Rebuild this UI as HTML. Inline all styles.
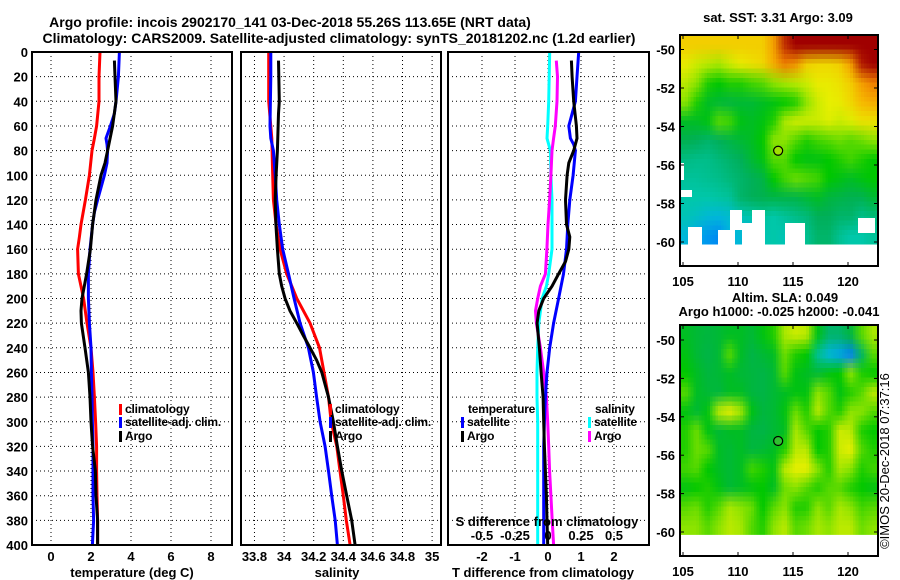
<!DOCTYPE html>
<html><head><meta charset="utf-8">
<style>
html,body{margin:0;padding:0;background:#fff;}
svg{display:block;font-family:"Liberation Sans",sans-serif;}
.t{font-weight:bold;font-size:13px;fill:#000;}
.lg{font-weight:bold;font-size:12px;fill:#000;letter-spacing:-0.2px;}
.ti{font-weight:bold;font-size:14px;fill:#000;}
</style></head>
<body>
<svg id="chart" width="900" height="580" viewBox="0 0 900 580" xmlns="http://www.w3.org/2000/svg">
<text class="ti" x="290" y="27" text-anchor="middle">Argo profile: incois 2902170_141 03-Dec-2018 55.26S 113.65E (NRT data)</text>
<text class="ti" x="339" y="43" text-anchor="middle">Climatology: CARS2009. Satellite-adjusted climatology: synTS_20181202.nc (1.2d earlier)</text>
<g id="g"></g>
<text x="889" y="461" transform="rotate(-90 889 461)" text-anchor="middle" font-size="13">©IMOS 20-Dec-2018 07:37:16</text>
</svg>
<script>
// ---------- data ----------
const depthTicks=[0,20,40,60,80,100,120,140,160,180,200,220,240,260,280,300,320,340,360,380,400];
const tempTicks=[0,2,4,6,8];
const salTicks=[33.8,34,34.2,34.4,34.6,34.8,35];
const salTickLabels=["33.8","34","34.2","34.4","34.6","34.8","35"];
const tdTicks=[-2,-1,0,1,2];
const sdTicks=[-0.5,-0.25,0,0.25,0.5];
const sdTickLabels=["-0.5","-0.25","0","0.25","0.5"];

const climTD=[0,20,40,60,70,80,100,120,140,150,160,180,190,200,220,240,260,280,300,320,340,360,380,400];
const climT=[2.45,2.4,2.4,2.28,2.17,2.05,1.92,1.72,1.5,1.42,1.33,1.37,1.5,1.63,1.8,2.0,2.1,2.17,2.23,2.28,2.28,2.3,2.33,2.33];
const satTD=[0,20,40,50,60,70,75,80,90,100,110,120,130,140,160,180,200,220,240,260,280,300,320,340,360,380,400];
const satT=[3.42,3.37,3.25,3.17,2.97,2.75,2.8,2.83,2.8,2.67,2.5,2.33,2.17,2.08,1.95,1.87,1.87,1.92,2.0,2.02,2.05,2.07,2.1,2.1,2.1,2.13,2.07];
const argoTD=[7,20,40,60,80,90,100,120,140,160,180,200,210,220,240,260,280,300,320,340,360,380,400];
const argoT=[3.17,3.2,3.25,3.08,2.83,2.7,2.5,2.25,2.08,1.97,1.78,1.55,1.5,1.52,1.7,1.87,1.95,2.0,2.08,2.22,2.25,2.33,2.33];

const climSD=[0,40,70,100,120,140,160,180,190,200,220,240,260,280,300,320,340,360,380,400];
const climS=[33.896,33.896,33.917,33.923,33.928,33.946,33.973,34.018,34.052,34.086,34.176,34.239,34.27,34.3,34.318,34.356,34.378,34.4,34.42,34.446];
const satSD=[0,20,60,70,80,100,120,140,160,180,200,220,240,260,280,300,320,340,360,380,400];
const satS=[33.91,33.91,33.905,33.91,33.928,33.94,33.95,33.968,33.991,34.03,34.068,34.108,34.164,34.198,34.22,34.243,34.277,34.3,34.322,34.345,34.36];
const argoSD=[7,40,50,80,100,120,140,160,180,190,200,210,220,230,240,250,260,280,300,320,340,360,380,400];
const argoS=[33.962,33.968,33.962,33.955,33.946,33.94,33.945,33.955,33.968,33.984,34.007,34.04,34.086,34.13,34.176,34.22,34.255,34.3,34.333,34.36,34.39,34.423,34.457,34.48];

const dTsatD=[0,20,40,50,60,70,75,80,100,120,140,160,180,200,220,240,260,280,300,320,340,360,380,400];
const dTsat=[0.93,0.88,0.83,0.73,0.63,0.68,0.78,0.83,0.76,0.66,0.6,0.56,0.47,0.32,0.17,0.05,-0.03,-0.08,-0.11,-0.13,-0.13,-0.13,-0.13,-0.13];
const dTargoD=[7,20,40,60,70,80,90,100,120,140,150,160,170,180,190,200,210,220,240,260,280,300,320,340,360,380,400];
const dTargo=[0.71,0.73,0.78,0.86,0.88,0.78,0.63,0.58,0.53,0.56,0.66,0.63,0.53,0.32,0.12,-0.13,-0.28,-0.33,-0.26,-0.21,-0.15,-0.13,-0.11,-0.08,-0.05,-0.03,-0.01];
const dSsatD=[0,40,60,70,80,100,120,140,160,180,190,200,220,240,260,280,300,400];
const dSsat=[0.0125,0.005,-0.002,-0.0075,0.018,0.022,0.03,0.03,0.03,0.005,-0.0125,-0.045,-0.07,-0.078,-0.083,-0.083,-0.078,-0.078];
const dSargoD=[7,20,40,60,70,80,100,120,140,160,180,190,200,210,220,240,260,280,300,320,340,360,380,400];
const dSargo=[0.0625,0.072,0.068,0.055,0.0425,0.03,0.022,0.012,0,-0.008,-0.02,-0.0575,-0.078,-0.095,-0.088,-0.0575,-0.0325,-0.012,-0.002,0.005,0.012,0.022,0.032,0.0425];

const sstLons=[104.7,122.7], sstLats=[-49.25,-60.13];
const sstGrid=[
[0.72,0.72,0.72,0.72,0.72,0.72,0.72,0.72,0.8,0.92,1,1,1,1,1,1,1,1],
[0.66,0.62,0.6,0.58,0.62,0.66,0.68,0.7,0.78,0.85,0.82,0.72,0.7,0.7,0.72,0.8,0.95,1],
[0.6,0.55,0.45,0.42,0.45,0.45,0.48,0.5,0.55,0.58,0.6,0.62,0.66,0.66,0.68,0.72,0.8,0.85],
[0.55,0.45,0.38,0.36,0.35,0.36,0.36,0.38,0.4,0.42,0.45,0.55,0.62,0.65,0.66,0.7,0.76,0.78],
[0.38,0.38,0.4,0.5,0.48,0.4,0.38,0.4,0.45,0.58,0.62,0.62,0.62,0.64,0.62,0.64,0.68,0.68],
[0.33,0.32,0.3,0.32,0.34,0.36,0.38,0.42,0.55,0.55,0.5,0.45,0.48,0.5,0.52,0.5,0.52,0.55],
[0.27,0.26,0.26,0.28,0.3,0.32,0.36,0.4,0.5,0.5,0.42,0.4,0.4,0.42,0.45,0.48,0.45,0.42],
[0.24,0.24,0.25,0.26,0.28,0.3,0.32,0.34,0.42,0.48,0.52,0.5,0.48,0.42,0.4,0.38,0.4,0.42],
[0.22,0.22,0.22,0.23,0.24,0.3,0.32,0.33,0.34,0.34,0.34,0.36,0.38,0.35,0.34,0.33,0.33,0.36],
[0.2,0.18,0.15,0.14,0.16,0.2,0.22,0.24,0.22,0.24,0.26,0.28,0.32,0.32,0.3,0.3,0.26,0.28],
[0.14,0.1,0.08,0.06,0.12,0.15,0.1,0.2,0.22,0.2,0.22,0.25,0.3,0.3,0.25,0.22,0.22,0.24]];
const slaLons=[104.7,122.7], slaLats=[-49.22,-60.15];
const slaGrid=[
[0.38,0.36,0.35,0.36,0.38,0.38,0.36,0.4,0.45,0.58,0.62,0.6,0.4,0.3,0.3,0.35,0.5,0.58],
[0.4,0.36,0.34,0.36,0.5,0.38,0.34,0.36,0.38,0.52,0.45,0.42,0.25,0.14,0.1,0.05,0.3,0.5],
[0.42,0.38,0.35,0.36,0.38,0.36,0.35,0.34,0.36,0.5,0.4,0.38,0.36,0.4,0.42,0.55,0.45,0.42],
[0.5,0.38,0.36,0.35,0.38,0.38,0.35,0.34,0.36,0.38,0.4,0.4,0.55,0.5,0.4,0.45,0.5,0.6],
[0.4,0.36,0.4,0.6,0.65,0.58,0.4,0.35,0.36,0.4,0.52,0.45,0.6,0.5,0.45,0.55,0.55,0.5],
[0.45,0.52,0.4,0.36,0.38,0.38,0.35,0.34,0.36,0.38,0.58,0.5,0.42,0.45,0.62,0.6,0.45,0.42],
[0.45,0.52,0.5,0.38,0.36,0.38,0.35,0.36,0.38,0.45,0.6,0.6,0.42,0.45,0.62,0.65,0.5,0.45],
[0.48,0.5,0.42,0.38,0.36,0.38,0.48,0.45,0.4,0.6,0.65,0.65,0.55,0.45,0.58,0.55,0.45,0.48],
[0.4,0.42,0.45,0.4,0.36,0.38,0.4,0.42,0.38,0.52,0.55,0.5,0.45,0.5,0.5,0.45,0.42,0.4],
[0.5,0.52,0.45,0.5,0.58,0.55,0.52,0.42,0.5,0.55,0.45,0.45,0.55,0.5,0.58,0.55,0.48,0.5],
[0.55,0.55,0.5,0.55,0.6,0.58,0.5,0.45,0.55,0.6,0.5,0.52,0.58,0.55,0.6,0.6,0.52,0.55]];
const lonTicks=[105,110,115,120];
const latTicks=[-50,-52,-54,-56,-58,-60];
const argoPos=[113.65,-55.26];

// ---------- helpers ----------
const NS="http://www.w3.org/2000/svg";
const G=document.getElementById('g');
function el(tag,at,parent){const e=document.createElementNS(NS,tag);for(const k in at)e.setAttribute(k,at[k]);(parent||G).appendChild(e);return e;}
const Y0=52,Y1=545;
const yD=d=>Y0+(d/400)*(Y1-Y0);
const P1={x0:32,x1:232,v0:-0.95,v1:9.05};
const P2={x0:241,x1:441,v0:33.709,v1:35.06};
const P3={x0:448,x1:649,v0:-3.03,v1:3.06};
const sx=(p,v)=>p.x0+(v-p.v0)/(p.v1-p.v0)*(p.x1-p.x0);

function frame(p,name){
  const r=el('rect',{x:p.x0,y:Y0,width:p.x1-p.x0,height:Y1-Y0,fill:'none',stroke:'#000','stroke-width':2});
  
  
}
function hgrid(p){
  depthTicks.forEach(d=>{if(d>0&&d<400){const l=el('line',{x1:p.x0,x2:p.x1,y1:yD(d),y2:yD(d),stroke:'#000','stroke-width':1,'stroke-dasharray':'1 3'});
    
    }});
}
function vgrid(p,vals){
  vals.forEach(v=>{const x=sx(p,v);const l=el('line',{x1:x,x2:x,y1:Y0,y2:Y1,stroke:'#000','stroke-width':1,'stroke-dasharray':'1 3'});
    
    });
}
function line(p,vals,deps,color,name,scale){
  scale=scale||1;
  const pts=vals.map((v,i)=>sx(p,v*scale).toFixed(1)+','+yD(deps[i]).toFixed(1)).join(' ');
  const pl=el('polyline',{points:pts,fill:'none',stroke:color,'stroke-width':3,'stroke-linejoin':'miter'});
  
  
}
function text(x,y,s,anchor,name,cls){
  const t=el('text',{x:x,y:y,'text-anchor':anchor||'start',class:cls||'t'});t.textContent=s;
  
  
  return t;
}
function legend(x,y,color,label,name){
  const r=el('rect',{x:x,y:y-9,width:3,height:11,fill:color});
  
  
  text(x+6,y,label,'start',name,'lg');
}

// depth labels
depthTicks.forEach(d=>text(28,yD(d)+5,String(d),'end','depth-tick-label'));

// panel 1
hgrid(P1);vgrid(P1,tempTicks);
line(P1,climT,climTD,'#f00','temp-climatology-line');
line(P1,satT,satTD,'#00f','temp-satellite-line');
line(P1,argoT,argoTD,'#000','temp-argo-line');
frame(P1,'temperature-panel');
tempTicks.forEach(v=>text(sx(P1,v),561,String(v),'middle','temp-tick-label'));
text(132,577,'temperature (deg C)','middle','temperature-axis-title');
legend(119,413,'#f00','climatology','legend-climatology');
legend(119,426,'#00f','satellite-adj. clim.','legend-satellite-adj');
legend(119,440,'#000','Argo','legend-argo');

// panel 2
hgrid(P2);vgrid(P2,salTicks);
line(P2,climS,climSD,'#f00','sal-climatology-line');
line(P2,satS,satSD,'#00f','sal-satellite-line');
line(P2,argoS,argoSD,'#000','sal-argo-line');
frame(P2,'salinity-panel');
salTicks.forEach((v,i)=>text(sx(P2,v),561,salTickLabels[i],'middle','sal-tick-label'));
text(337,577,'salinity','middle','salinity-axis-title');
legend(329,413,'#f00','climatology','legend2-climatology');
legend(329,426,'#00f','satellite-adj. clim.','legend2-satellite-adj');
legend(329,440,'#000','Argo','legend2-argo');

// panel 3
hgrid(P3);vgrid(P3,tdTicks);
line(P3,dSsat,dSsatD,'#0ff','sdiff-satellite-line',4);
line(P3,dSargo,dSargoD,'#f0f','sdiff-argo-line',4);
line(P3,dTsat,dTsatD,'#00f','tdiff-satellite-line');
line(P3,dTargo,dTargoD,'#000','tdiff-argo-line');
frame(P3,'difference-panel');
tdTicks.forEach(v=>text(sx(P3,v),561,String(v),'middle','tdiff-tick-label'));
text(543,577,'T difference from climatology','middle','tdiff-axis-title');
text(547,526,'S difference from climatology','middle','sdiff-axis-title');
sdTicks.forEach((v,i)=>text(sx(P3,v*4),540,sdTickLabels[i],'middle','sdiff-tick-label'));
text(468,413,'temperature','start','legend-temperature-heading','lg');
legend(461,426,'#00f','satellite','legend3-t-satellite');
legend(461,440,'#000','Argo','legend3-t-argo');
text(595,413,'salinity','start','legend-salinity-heading','lg');
legend(588,426,'#0ff','satellite','legend3-s-satellite');
legend(588,440,'#f0f','Argo','legend3-s-argo');

// ---------- maps ----------
const cmap=[[0,[0,96,255]],[0.12,[0,180,230]],[0.22,[0,200,170]],[0.32,[0,176,90]],[0.42,[0,200,0]],[0.55,[140,228,0]],[0.65,[232,240,0]],[0.75,[248,192,0]],[0.85,[240,128,0]],[0.92,[192,48,0]],[1,[160,0,0]]];
function col(v){for(let i=1;i<cmap.length;i++){if(v<=cmap[i][0]){const a=cmap[i-1],b=cmap[i],t=(v-a[0])/(b[0]-a[0]);return a[1].map((c,k)=>Math.round(c+(b[1][k]-c)*t));}}return cmap[cmap.length-1][1];}
function gridImage(grid){
  const c=document.createElement('canvas');c.width=grid[0].length;c.height=grid.length;
  const ctx=c.getContext('2d');const im=ctx.createImageData(c.width,c.height);
  grid.forEach((row,j)=>row.forEach((v,i)=>{const k=(j*c.width+i)*4,cc=col(v);im.data[k]=cc[0];im.data[k+1]=cc[1];im.data[k+2]=cc[2];im.data[k+3]=255;}));
  ctx.putImageData(im,0,0);
  const big=document.createElement('canvas');big.width=c.width*10;big.height=c.height*10;
  const b=big.getContext('2d');b.imageSmoothingEnabled=true;b.drawImage(c,0,0,big.width,big.height);
  const small=document.createElement('canvas');small.width=c.width*4;small.height=c.height*4;
  const s=small.getContext('2d');s.imageSmoothingEnabled=true;s.drawImage(big,0,0,small.width,small.height);
  return small.toDataURL();
}
function drawMap(M){
  const lx=lon=>683+(lon-105)*11;
  const ly=lat=>M.y50+(-50-lat)*M.ppd;
  const x0=lx(M.lons[0]),x1=lx(M.lons[1]),y0=ly(M.lats[0]),y1=ly(M.lats[1]);
  const im=el('image',{x:x0,y:y0,width:x1-x0,height:y1-y0,preserveAspectRatio:'none',href:gridImage(M.grid),style:'image-rendering:pixelated'});
  
  
  (M.holes||[]).forEach(h=>{const r=el('rect',{x:h[0],y:h[1],width:h[2],height:h[3],fill:'#fff'});
    
    });
  const f=el('rect',{x:680,y:M.top,width:198,height:M.bottom-M.top,fill:'none',stroke:'#000','stroke-width':2});
  
  
  latTicks.forEach(t=>{const y=ly(t);
    el('line',{x1:680,x2:684,y1:y,y2:y,stroke:'#000','stroke-width':1});
    el('line',{x1:874,x2:878,y1:y,y2:y,stroke:'#000','stroke-width':1});
    text(675,y+5,String(t),'end',M.name+'-lat-label');});
  lonTicks.forEach(t=>{const x=lx(t);
    el('line',{x1:x,x2:x,y1:M.top,y2:M.top+4,stroke:'#000','stroke-width':1});
    el('line',{x1:x,x2:x,y1:M.bottom-4,y2:M.bottom,stroke:'#000','stroke-width':1});
    text(x,M.bottom+20,String(t),'middle',M.name+'-lon-label');});
  const c=el('circle',{cx:lx(argoPos[0]),cy:ly(argoPos[1]),r:4.5,fill:M.dot,stroke:'#000','stroke-width':1.2});
  
  
}
drawMap({name:'sst-map',grid:sstGrid,lons:sstLons,lats:sstLats,y50:49.5,ppd:19.25,top:35,bottom:266,dot:'#a0e000',
  holes:[[679,163,5,17],[679,190,13,7],[688,227,14,18],[718,230,17,15],[730,210,12,20],[742,223,23,22],[752,210,13,13],[785,223,20,22],[858,218,17,15]]});
drawMap({name:'sla-map',grid:slaGrid,lons:slaLons,lats:slaLats,y50:340,ppd:19.2,top:325,bottom:556,dot:'#30c030'});
text(778,22,'sat. SST: 3.31 Argo: 3.09','middle','sst-title');
text(785,302,'Altim. SLA: 0.049','middle','sla-title');
text(779,316,'Argo h1000: -0.025 h2000: -0.041','middle','sla-subtitle');
</script>
</body></html>
